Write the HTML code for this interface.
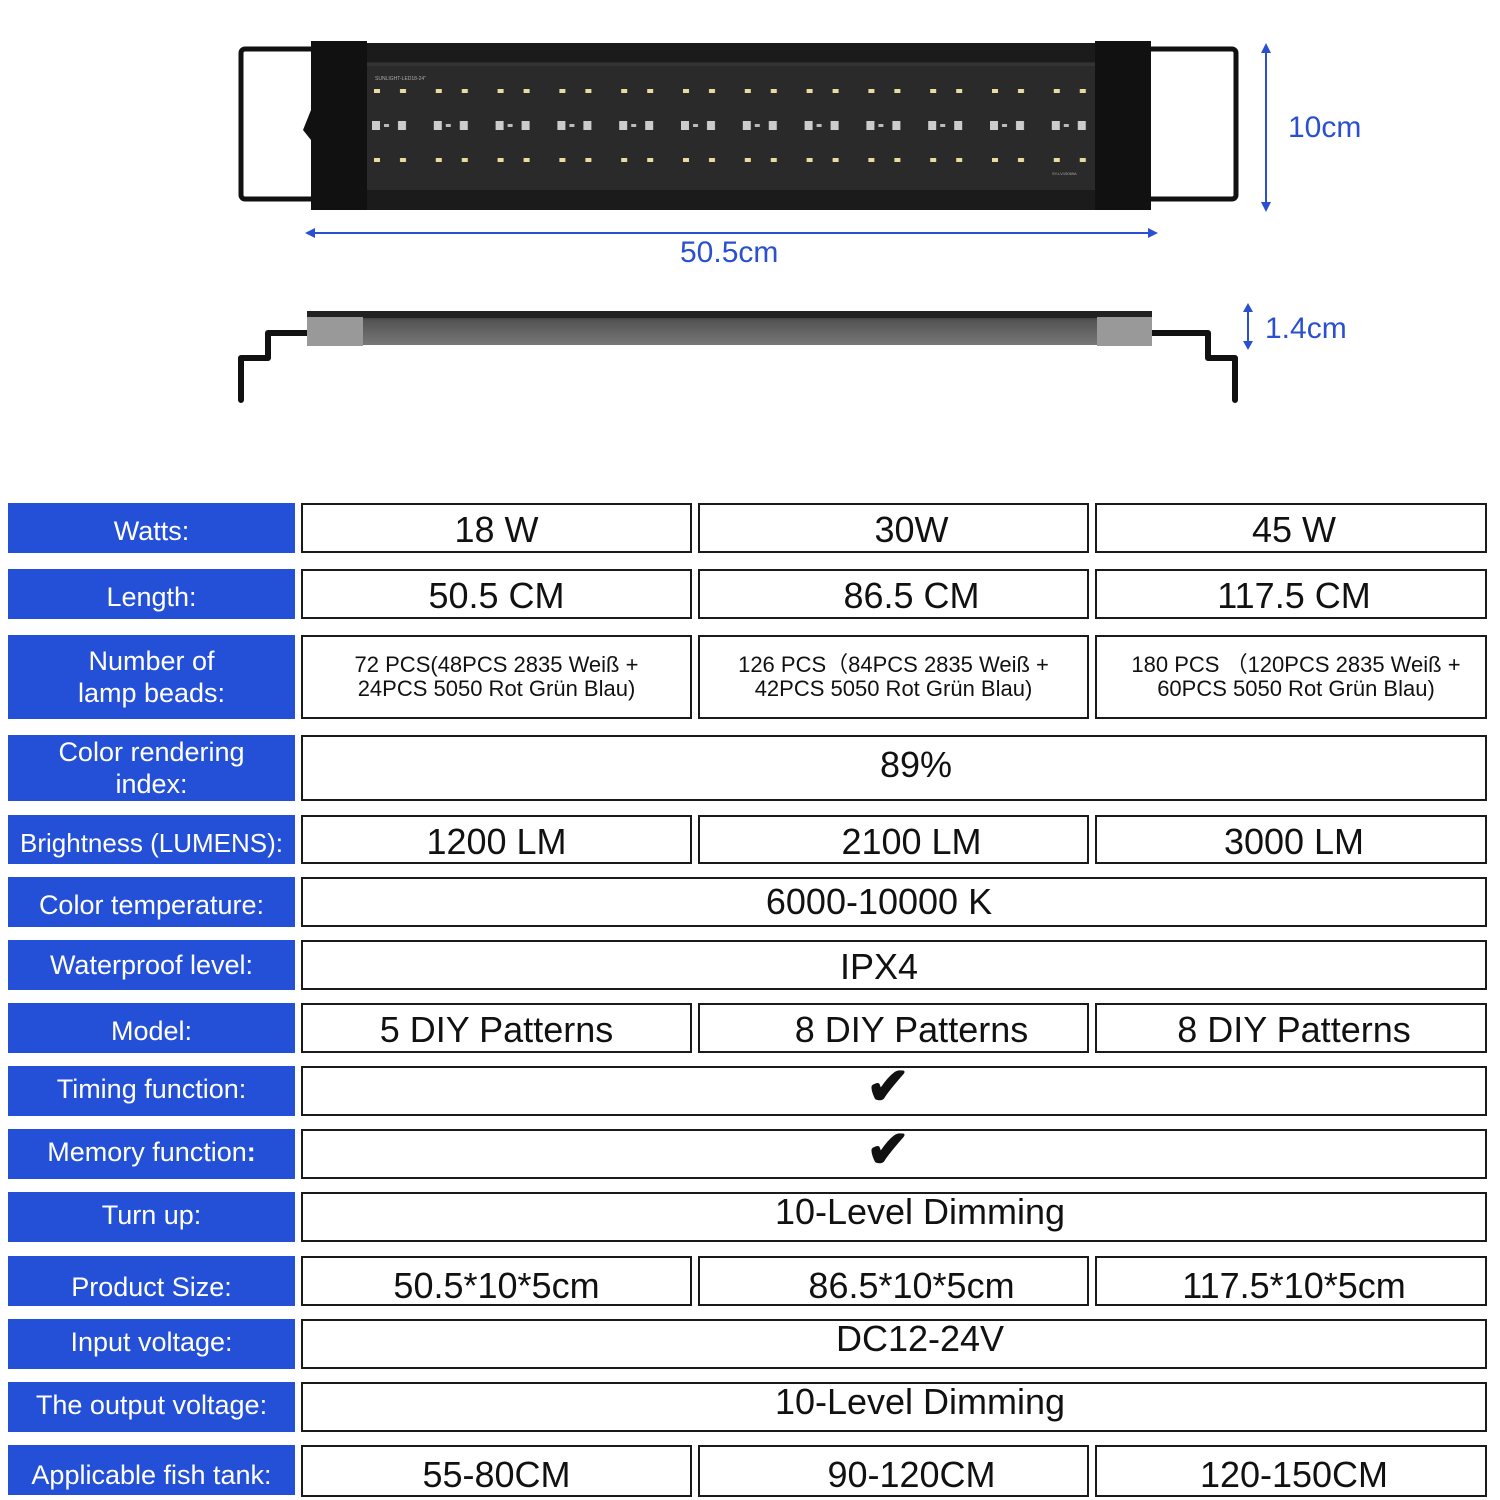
<!DOCTYPE html>
<html><head><meta charset="utf-8"><style>
*{margin:0;padding:0;box-sizing:border-box}
body{width:1500px;height:1500px;background:#fff;position:relative;overflow:hidden;font-family:"Liberation Sans",Arial,sans-serif}
.l{position:absolute;left:8px;width:287px;background:#2450d8;color:#fff;font-size:27px;display:flex;align-items:center;justify-content:center;text-align:center;line-height:32px;padding-top:6px;white-space:nowrap}
.c{position:absolute;border:2px solid #1a1a1a;background:#fff;color:#111;font-size:36px;display:flex;align-items:center;justify-content:center;text-align:center;padding-top:4px;white-space:nowrap}
.m{padding-left:36px}
.r{padding-left:6px}
.s{font-size:22px;line-height:24px;padding-top:0}
.w{padding-left:42px}
</style></head><body>
<svg width="1500" height="460" style="position:absolute;left:0;top:0">
<defs>
<pattern id="p" x="372" y="80" width="61.8" height="100" patternUnits="userSpaceOnUse">
<rect x="2" y="9" width="6" height="4" fill="#e8dca0"/><rect x="28" y="9" width="6" height="4" fill="#e8dca0"/>
<rect x="0" y="41" width="8" height="9" fill="#ccc"/><rect x="12" y="44" width="5" height="3" fill="#bbb"/><rect x="26" y="41" width="8" height="9" fill="#ccc"/>
<rect x="2" y="78" width="6" height="4" fill="#e8dca0"/><rect x="28" y="78" width="6" height="4" fill="#e8dca0"/>
</pattern>
<linearGradient id="g" x1="0" y1="0" x2="0" y2="1"><stop offset="0" stop-color="#222"/><stop offset=".3" stop-color="#555"/><stop offset="1" stop-color="#777"/></linearGradient>
</defs>
<rect x="241" y="49" width="90" height="150" rx="4" fill="none" stroke="#111" stroke-width="5"/>
<rect x="1140" y="49" width="96" height="150" rx="4" fill="none" stroke="#111" stroke-width="5"/>
<rect x="311" y="43" width="840" height="167" fill="#1b1b1b"/>
<rect x="367" y="62" width="728" height="128" fill="#2a2a2a"/>
<rect x="367" y="63" width="728" height="3" fill="#333"/>
<rect x="367" y="80" width="728" height="90" fill="url(#p)"/>
<rect x="311" y="41" width="56" height="169" fill="#111"/>
<rect x="1095" y="41" width="56" height="169" fill="#111"/>
<path d="M311 110 L303 130 L311 140Z" fill="#111"/>
<text x="375" y="80" font-size="5" fill="#aaa" font-family="Liberation Sans">SUNLIGHT-LED18-24"</text>
<text x="1052" y="175" font-size="4" fill="#aaa" font-family="Liberation Sans">SY-LV15069A</text>
<g stroke="#2a4fd0" stroke-width="2" fill="#2a4fd0">
<line x1="1266" y1="48" x2="1266" y2="207"/><path d="M1266 43l-5 10h10z M1266 212l-5-10h10z" stroke="none"/>
<line x1="310" y1="233" x2="1153" y2="233"/><path d="M305 233l10-5v10z M1158 233l-10-5v10z" stroke="none"/>
<line x1="1248" y1="308" x2="1248" y2="346"/><path d="M1248 303l-5 9h10z M1248 350l-5-9h10z" stroke="none"/>
</g>
<text x="1288" y="137" font-size="30" fill="#2a4fd0" font-family="Liberation Sans">10cm</text>
<text x="680" y="262" font-size="30" fill="#2a4fd0" font-family="Liberation Sans">50.5cm</text>
<text x="1265" y="338" font-size="30" fill="#2a4fd0" font-family="Liberation Sans">1.4cm</text>
<path d="M307 333 H268 V358 H241 V400" fill="none" stroke="#111" stroke-width="6" stroke-linejoin="round" stroke-linecap="round"/>
<path d="M1152 333 H1208 V358 H1235 V400" fill="none" stroke="#111" stroke-width="6" stroke-linejoin="round" stroke-linecap="round"/>
<rect x="307" y="311" width="845" height="34" fill="url(#g)"/>
<rect x="307" y="311" width="845" height="7" fill="#222"/>
<rect x="307" y="313" width="56" height="33" fill="#999"/>
<rect x="1097" y="313" width="55" height="33" fill="#999"/>
<rect x="307" y="311" width="56" height="6" fill="#222"/><rect x="1097" y="311" width="55" height="6" fill="#222"/>
</svg>

<div class="l" style="top:503px;height:50px">Watts:</div>
<div class="c" style="left:301px;top:503px;width:391px;height:50px">18 W</div>
<div class="c m" style="left:698px;top:503px;width:391px;height:50px">30W</div>
<div class="c r" style="left:1095px;top:503px;width:392px;height:50px">45 W</div>

<div class="l" style="top:569px;height:50px">Length:</div>
<div class="c" style="left:301px;top:569px;width:391px;height:50px">50.5 CM</div>
<div class="c m" style="left:698px;top:569px;width:391px;height:50px">86.5 CM</div>
<div class="c r" style="left:1095px;top:569px;width:392px;height:50px">117.5 CM</div>

<div class="l" style="top:635px;height:84px;padding-top:0">Number of<br>lamp beads:</div>
<div class="c s" style="left:301px;top:635px;width:391px;height:84px">72 PCS(48PCS 2835 Weiß +<br>24PCS 5050 Rot Grün Blau)</div>
<div class="c s" style="left:698px;top:635px;width:391px;height:84px">126 PCS（84PCS 2835 Weiß +<br>42PCS 5050 Rot Grün Blau)</div>
<div class="c s" style="left:1095px;top:635px;width:392px;height:84px;padding-left:10px">180 PCS （120PCS 2835 Weiß +<br>60PCS 5050 Rot Grün Blau)</div>

<div class="l" style="top:735px;height:66px;padding-top:0">Color rendering<br>index:</div>
<div class="c" style="left:301px;top:735px;width:1186px;height:66px;padding-left:44px;padding-bottom:10px">89%</div>

<div class="l" style="top:815px;height:49px;font-size:26px">Brightness (LUMENS):</div>
<div class="c" style="left:301px;top:815px;width:391px;height:49px">1200 LM</div>
<div class="c m" style="left:698px;top:815px;width:391px;height:49px">2100 LM</div>
<div class="c r" style="left:1095px;top:815px;width:392px;height:49px">3000 LM</div>

<div class="l" style="top:877px;height:50px">Color temperature:</div>
<div class="c" style="left:301px;top:877px;width:1186px;height:50px;padding-right:30px;padding-top:0">6000-10000 K</div>

<div class="l" style="top:940px;height:50px;padding-top:0">Waterproof level:</div>
<div class="c" style="left:301px;top:940px;width:1186px;height:50px;padding-right:30px">IPX4</div>

<div class="l" style="top:1003px;height:50px">Model:</div>
<div class="c" style="left:301px;top:1003px;width:391px;height:50px">5 DIY Patterns</div>
<div class="c m" style="left:698px;top:1003px;width:391px;height:50px">8 DIY Patterns</div>
<div class="c r" style="left:1095px;top:1003px;width:392px;height:50px">8 DIY Patterns</div>

<div class="l" style="top:1066px;height:50px;padding-top:0;padding-bottom:4px">Timing function:</div>
<div class="c" style="left:301px;top:1066px;width:1186px;height:50px;padding:0"><span style="font-size:52px;font-weight:bold;margin-left:-12px;margin-top:-8px">✔</span></div>

<div class="l" style="top:1129px;height:50px;padding-top:0;padding-bottom:4px">Memory function<b>:</b></div>
<div class="c" style="left:301px;top:1129px;width:1186px;height:50px;padding:0"><span style="font-size:52px;font-weight:bold;margin-left:-12px;margin-top:-8px">✔</span></div>

<div class="l" style="top:1192px;height:50px;padding-top:0;padding-bottom:4px">Turn up:</div>
<div class="c" style="left:301px;top:1192px;width:1186px;height:50px;padding:0 0 10px 52px">10-Level Dimming</div>

<div class="l" style="top:1256px;height:50px;padding-top:12px">Product Size:</div>
<div class="c" style="left:301px;top:1256px;width:391px;height:50px;padding-top:10px">50.5*10*5cm</div>
<div class="c m" style="left:698px;top:1256px;width:391px;height:50px;padding-top:10px">86.5*10*5cm</div>
<div class="c r" style="left:1095px;top:1256px;width:392px;height:50px;padding-top:10px">117.5*10*5cm</div>

<div class="l" style="top:1319px;height:50px;padding-top:0;padding-bottom:4px">Input voltage:</div>
<div class="c" style="left:301px;top:1319px;width:1186px;height:50px;padding:0 0 10px 52px">DC12-24V</div>

<div class="l" style="top:1382px;height:50px;padding-top:0;padding-bottom:4px">The output voltage:</div>
<div class="c" style="left:301px;top:1382px;width:1186px;height:50px;padding:0 0 10px 52px">10-Level Dimming</div>

<div class="l" style="top:1445px;height:50px;padding-top:10px">Applicable fish tank:</div>
<div class="c" style="left:301px;top:1445px;width:391px;height:52px;padding-top:8px">55-80CM</div>
<div class="c m" style="left:698px;top:1445px;width:391px;height:52px;padding-top:8px">90-120CM</div>
<div class="c r" style="left:1095px;top:1445px;width:392px;height:52px;padding-top:8px">120-150CM</div>
</body></html>
